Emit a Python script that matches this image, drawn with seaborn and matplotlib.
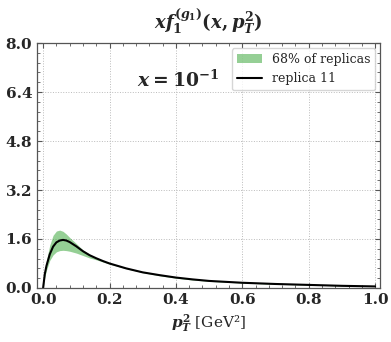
import matplotlib
matplotlib.use('Agg')
import matplotlib.pyplot as plt
import seaborn as sns
import pandas as pd
from matplotlib.ticker import MultipleLocator, AutoMinorLocator, FormatStrFormatter

# values
pT2 = [0, 0.005, 0.01, 0.02, 0.03, 0.04, 0.05, 0.06, 0.07, 0.08, 0.1, 0.12, 0.14, 0.16, 0.18, 0.2,
       0.25, 0.3, 0.35, 0.4, 0.45, 0.5, 0.6, 0.7, 0.8, 0.9, 1.0]
central = [0, 0.45, 0.72, 1.10, 1.35, 1.49, 1.55, 1.57, 1.55, 1.50, 1.36, 1.20, 1.07, 0.97, 0.88, 0.80,
           0.64, 0.51, 0.42, 0.34, 0.28, 0.23, 0.17, 0.13, 0.10, 0.07, 0.05]
upper = [0, 0.55, 0.90, 1.40, 1.72, 1.86, 1.89, 1.85, 1.76, 1.65, 1.45, 1.24, 1.10, 0.99, 0.89, 0.81,
         0.66, 0.53, 0.44, 0.36, 0.30, 0.245, 0.18, 0.135, 0.105, 0.075, 0.053]
lower = [0, 0.35, 0.58, 0.90, 1.08, 1.18, 1.22, 1.23, 1.22, 1.20, 1.14, 1.06, 0.98, 0.92, 0.85, 0.78,
         0.63, 0.50, 0.40, 0.32, 0.26, 0.215, 0.16, 0.12, 0.095, 0.066, 0.048]

df = pd.DataFrame({'pT2': pT2, 'central': central, 'upper': upper, 'lower': lower})

sns.set_style('ticks')
plt.rcParams['font.family'] = ['DejaVu Serif']
plt.rcParams['mathtext.fontset'] = 'custom'
plt.rcParams['mathtext.rm'] = 'DejaVu Serif:bold'
plt.rcParams['mathtext.it'] = 'DejaVu Serif:italic:bold'
plt.rcParams['mathtext.bf'] = 'DejaVu Serif:bold'

fig = plt.figure(figsize=(3.91, 3.42), dpi=100)
ax = fig.add_axes([0.095, 0.158, 0.877, 0.716])

ax.fill_between(df['pT2'], df['lower'], df['upper'], color='#2ca02c', alpha=0.5,
                linewidth=0, label='68% of replicas')
sns.lineplot(data=df, x='pT2', y='central', color='black', linewidth=1.5, ax=ax, label='replica 11')

ax.set_xlim(-0.018, 1.015)
ax.set_ylim(0, 8)
ax.xaxis.set_major_locator(MultipleLocator(0.2))
ax.yaxis.set_major_locator(MultipleLocator(1.6))
ax.xaxis.set_minor_locator(AutoMinorLocator(5))
ax.yaxis.set_minor_locator(AutoMinorLocator(5))
ax.xaxis.set_major_formatter(FormatStrFormatter('%.1f'))
ax.yaxis.set_major_formatter(FormatStrFormatter('%.1f'))
ax.tick_params(which='both', direction='in', top=True, right=True, color='#555555')
ax.tick_params(which='major', length=3.5, width=0.8)
ax.tick_params(which='minor', length=2, width=0.6)
for lab in ax.get_xticklabels() + ax.get_yticklabels():
    lab.set_fontweight('bold')
    lab.set_fontsize(11)
for s in ax.spines.values():
    s.set_color('#555555')
    s.set_linewidth(0.9)

ax.grid(True, which='major', linestyle=':', color='#bbbbbb', linewidth=0.7)
ax.set_axisbelow(True)

ax.set_title(r'$x f_1^{(g_1)}(x, p_T^2)$', fontsize=13, pad=10)
ax.set_xlabel(r'$p_T^2$ [GeV²]', fontsize=11)
ax.set_ylabel('')
ax.text(0.29, 0.82, r'$x = 10^{-1}$', transform=ax.transAxes, fontsize=13.5)

leg = ax.legend(loc='upper right', fontsize=9, frameon=True, fancybox=True,
                handlelength=2.0, borderaxespad=0.4)
leg.get_frame().set_edgecolor('#cccccc')

fig.savefig('out.png', dpi=100)
